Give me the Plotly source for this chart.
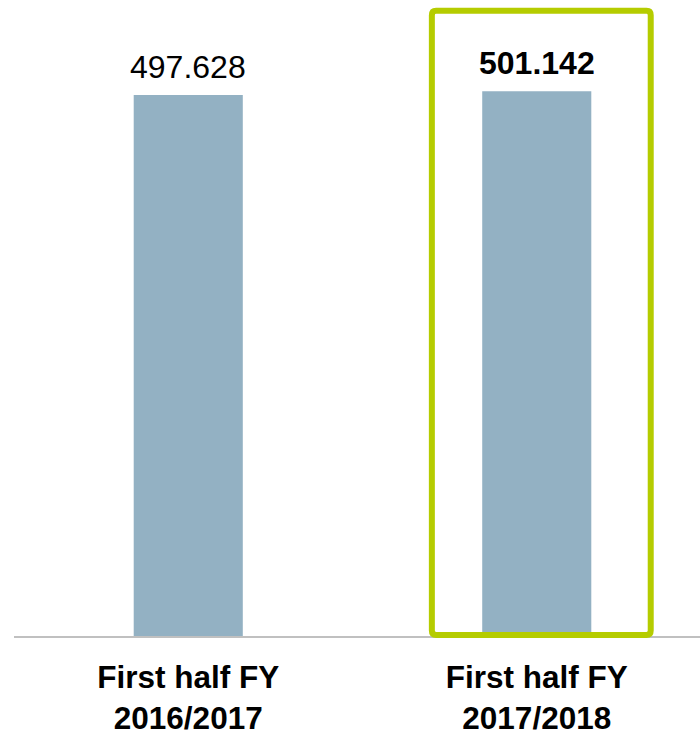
import plotly.graph_objects as go

categories = ["First half FY<br>2016/2017", "First half FY<br>2017/2018"]
values = [497.628, 501.142]
value_labels = ["497.628", "<b>501.142</b>"]

BAR_COLOR = "#93B1C3"
HIGHLIGHT = "#B5CC00"
FONT = "Liberation Sans, Arial, sans-serif"

fig = go.Figure(go.Bar(
    x=categories, y=values,
    marker=dict(color=BAR_COLOR, line=dict(width=0)),
    width=0.313,
    cliponaxis=False,
))

for cat, val, lab in zip(categories, values, value_labels):
    fig.add_annotation(x=cat, y=val, text=lab, showarrow=False,
                       xref="x", yref="y", yanchor="bottom", yshift=8,
                       font=dict(family=FONT, size=32, color="#000000"))

# highlight box around the second category
x0, x1 = 0.699, 1.327
y0, y1 = 0.0016, 0.983
r_x, r_y = 0.012, 0.007
path = (f"M {x0+r_x},{y0} L {x1-r_x},{y0} Q {x1},{y0} {x1},{y0+r_y} "
        f"L {x1},{y1-r_y} Q {x1},{y1} {x1-r_x},{y1} "
        f"L {x0+r_x},{y1} Q {x0},{y1} {x0},{y1-r_y} "
        f"L {x0},{y0+r_y} Q {x0},{y0} {x0+r_x},{y0} Z")
fig.add_shape(type="path", path=path, xref="x", yref="paper",
              line=dict(color=HIGHLIGHT, width=6), layer="above")

fig.update_layout(
    width=700, height=736,
    margin=dict(l=14, r=0, t=0, b=94),
    plot_bgcolor="white", paper_bgcolor="white",
    showlegend=False,
    font=dict(family=FONT, color="#000000"),
    xaxis=dict(
        range=[-0.5, 1.4684],
        showline=True, linecolor="#C0C0C0", linewidth=2,
        showgrid=False, zeroline=False, ticks="",
        ticklabelstandoff=12,
        tickfont=dict(family=FONT, size=31.5, color="#000000", weight="bold"),
    ),
    yaxis=dict(range=[0, 585.1], visible=False, showgrid=False, zeroline=False),
)

fig.write_html(
    "out.html",
    config={"displayModeBar": False},
    post_script="document.body.style.margin='0';document.body.style.overflow='hidden';",
)
